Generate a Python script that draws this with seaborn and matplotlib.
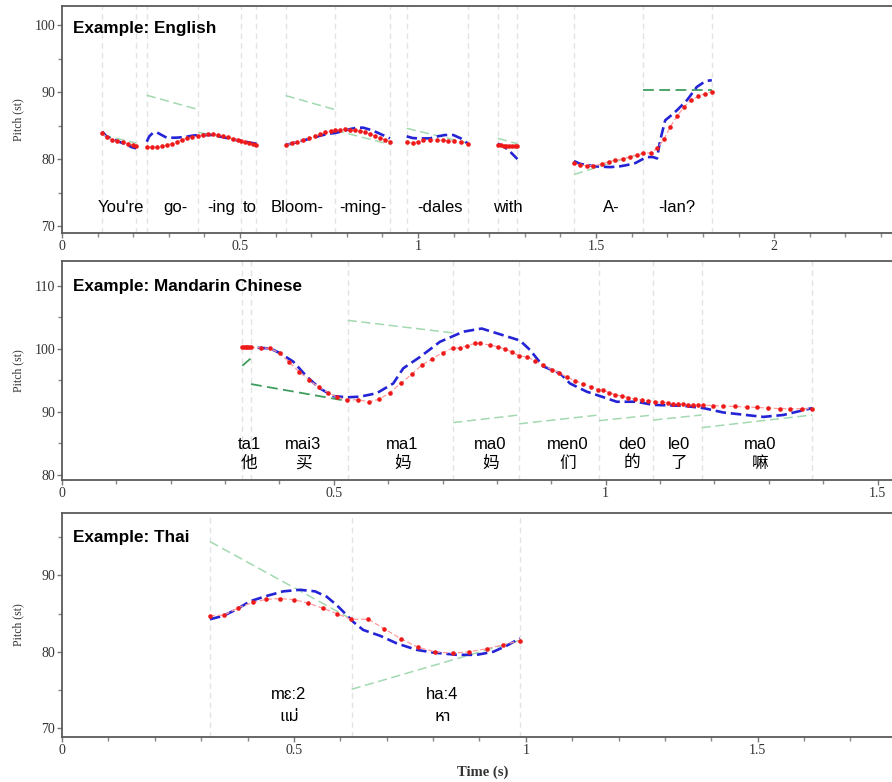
import numpy as np
import pandas as pd
import matplotlib
matplotlib.use("Agg")
import matplotlib.pyplot as plt
import seaborn as sns
from matplotlib import font_manager
from matplotlib.ticker import MultipleLocator
from matplotlib.ft2font import FT2Font

# ======================= DATA =======================
# ---- English ----
en_title = "Example: English"
en_syl_start = [0.113, 0.238, 0.383, 0.504, 0.628, 0.767, 0.968, 1.224, 1.438, 1.631]
en_syl_end = [0.208, 0.383, 0.504, 0.546, 0.767, 0.921, 1.140, 1.279, 1.631, 1.825]
en_tgt_start = [83.6, 89.55, 84.0, 82.7, 89.5, 84.3, 84.6, 83.1, 77.7, 90.4]
en_tgt_end = [82.4, 87.4, 82.8, 82.2, 87.4, 82.2, 82.4, 82.3, 80.9, 90.4]
en_tgt_dark = [0, 0, 0, 0, 0, 0, 0, 0, 0, 1]
en_labels = ["You're", "go-", "-ing", "to", "Bloom-", "-ming-", "-dales", "with", "A-", "-lan?"]
en_label_x = [0.164, 0.319, 0.447, 0.528, 0.661, 0.846, 1.061, 1.253, 1.543, 1.728]

en_red_t = [
    [0.113, 0.125, 0.14, 0.155, 0.17, 0.185, 0.2, 0.208],
    [0.238, 0.252, 0.266, 0.28, 0.294, 0.308, 0.322, 0.336, 0.35, 0.366, 0.383, 0.397,
     0.411, 0.425, 0.439, 0.453, 0.467, 0.481, 0.495, 0.504, 0.515, 0.526, 0.537, 0.546],
    [0.628, 0.645, 0.66, 0.678, 0.695, 0.71, 0.725, 0.74, 0.755, 0.767, 0.782, 0.796,
     0.809, 0.823, 0.837, 0.851, 0.865, 0.879, 0.893, 0.907, 0.921],
    [0.968, 0.985, 1.0, 1.015, 1.034, 1.052, 1.07, 1.085, 1.1, 1.12, 1.14],
    [1.224, 1.232, 1.24, 1.248, 1.256, 1.264, 1.272, 1.279],
    [1.438, 1.455, 1.474, 1.492, 1.516, 1.535, 1.553, 1.575, 1.594, 1.614, 1.633, 1.654,
     1.672, 1.691, 1.708, 1.727, 1.747, 1.766, 1.787, 1.806, 1.825],
]
en_red_p = [
    [83.9, 83.3, 82.9, 82.7, 82.5, 82.3, 82.1, 82.0],
    [81.8, 81.8, 81.85, 81.95, 82.1, 82.3, 82.6, 82.85, 83.1, 83.3, 83.5, 83.6,
     83.7, 83.7, 83.6, 83.5, 83.3, 83.0, 82.8, 82.7, 82.5, 82.35, 82.2, 82.1],
    [82.1, 82.35, 82.6, 82.8, 83.1, 83.4, 83.75, 84.0, 84.2, 84.3, 84.4, 84.45,
     84.4, 84.3, 84.2, 84.0, 83.75, 83.45, 83.15, 82.9, 82.6],
    [82.5, 82.4, 82.55, 82.8, 82.85, 82.85, 82.8, 82.75, 82.7, 82.5, 82.2],
    [82.1, 82.05, 82.0, 82.0, 82.0, 82.0, 82.0, 82.0],
    [79.35, 79.1, 79.0, 79.0, 79.25, 79.6, 79.85, 80.0, 80.35, 80.6, 80.85, 80.95,
     81.6, 83.0, 84.8, 86.4, 87.8, 88.8, 89.4, 89.8, 90.05],
]
en_blue_t = [
    [0.113, 0.125, 0.14, 0.16, 0.18, 0.195, 0.208],
    [0.238, 0.245, 0.255, 0.266, 0.28, 0.294, 0.32, 0.345, 0.365, 0.383, 0.41, 0.425,
     0.45, 0.475, 0.504, 0.525, 0.546],
    [0.628, 0.65, 0.678, 0.70, 0.725, 0.75, 0.767, 0.79, 0.81, 0.828, 0.846, 0.865,
     0.884, 0.905, 0.921],
    [0.968, 0.985, 1.0, 1.034, 1.055, 1.075, 1.099, 1.12, 1.14],
    [1.224, 1.24, 1.255, 1.268, 1.279],
    [1.438, 1.455, 1.474, 1.50, 1.539, 1.565, 1.586, 1.61, 1.631, 1.642, 1.66, 1.671,
     1.680, 1.694, 1.71, 1.727, 1.755, 1.783, 1.80, 1.811, 1.825],
]
en_blue_p = [
    [84.1, 83.4, 83.0, 82.6, 82.2, 81.8, 81.6],
    [82.6, 83.4, 83.9, 84.0, 83.6, 83.2, 83.2, 83.3, 83.5, 83.6, 83.6, 83.6,
     83.3, 83.0, 82.7, 82.5, 82.3],
    [82.1, 82.4, 82.8, 83.1, 83.5, 83.8, 83.9, 84.2, 84.5, 84.7, 84.7, 84.4,
     84.0, 83.5, 83.1],
    [83.4, 83.15, 83.1, 83.1, 83.4, 83.6, 83.6, 83.1, 82.3],
    [82.3, 81.9, 81.3, 80.6, 80.0],
    [79.7, 79.3, 79.1, 78.9, 78.8, 78.9, 79.1, 79.4, 80.0, 80.3, 80.3, 80.1,
     82.8, 85.8, 86.5, 87.3, 88.8, 90.8, 91.4, 91.7, 91.8],
]

# ---- Mandarin Chinese ----
zh_title = "Example: Mandarin Chinese"
zh_syl_start = [0.3316, 0.3476, 0.5255, 0.7197, 0.8405, 0.9876, 1.0875, 1.1765]
zh_syl_end = [0.3476, 0.5255, 0.7197, 0.8405, 0.9876, 1.0875, 1.1765, 1.380]
zh_tgt_start = [97.3, 94.4, 104.5, 88.3, 88.1, 88.6, 88.7, 87.5]
zh_tgt_end = [98.5, 91.7, 102.5, 89.5, 89.5, 89.5, 89.5, 89.5]
zh_tgt_dark = [1, 1, 0, 0, 0, 0, 0, 0]
zh_pinyin = ["ta1", "mai3", "ma1", "ma0", "men0", "de0", "le0", "ma0"]
zh_hanzi = ["他", "买", "妈", "妈", "们", "的", "了", "嘛"]
zh_label_x = [0.344, 0.444, 0.626, 0.788, 0.931, 1.049, 1.135, 1.284]

zh_red_t = [[
    0.3316, 0.3346, 0.3376, 0.3406, 0.3436, 0.3476, 0.3655, 0.3826, 0.4010, 0.4181,
    0.4365, 0.4548, 0.4721, 0.4898, 0.5063, 0.5247, 0.5450, 0.5646, 0.5836, 0.6033,
    0.6230, 0.6432, 0.6616, 0.6811, 0.7002, 0.7186, 0.7320, 0.7455, 0.7596, 0.7688,
    0.7872, 0.8025, 0.8148, 0.8271, 0.8411, 0.8547, 0.8700, 0.8852, 0.9007, 0.9147,
    0.9283, 0.9435, 0.9588, 0.9724, 0.9864, 0.9956, 1.0066, 1.0177, 1.0294, 1.0416,
    1.0539, 1.0662, 1.0784, 1.0907, 1.1030, 1.1151, 1.1243, 1.1335, 1.1427, 1.1519,
    1.1611, 1.1703, 1.1795, 1.1979, 1.2163, 1.2378, 1.2593, 1.2777, 1.2991, 1.3206,
    1.3390, 1.3605, 1.3800]]
zh_red_p = [[
    100.2, 100.2, 100.2, 100.2, 100.2, 100.2, 100.16, 100.05, 99.27, 97.85,
    96.3, 95.05, 93.9, 93.05, 92.3, 91.9, 91.9, 91.6, 92.0, 93.05,
    94.5, 95.95, 97.4, 98.4, 99.4, 100.1, 100.1, 100.5, 100.85, 100.85,
    100.58, 100.3, 99.95, 99.5, 98.85, 98.7, 98.1, 97.4, 96.7, 96.2,
    95.5, 94.95, 94.4, 94.0, 93.5, 93.4, 93.05, 92.7, 92.5, 92.25,
    92.0, 91.85, 91.75, 91.6, 91.5, 91.4, 91.3, 91.25, 91.2, 91.15,
    91.1, 91.05, 91.05, 91.0, 90.9, 90.85, 90.75, 90.7, 90.6, 90.5,
    90.5, 90.5, 90.5]]
zh_blue_t = [[
    0.3316, 0.3476, 0.3826, 0.4010, 0.4254, 0.4501, 0.4745, 0.4990, 0.5236, 0.5481,
    0.5788, 0.6093, 0.6277, 0.6585, 0.6952, 0.7381, 0.7719, 0.8424, 0.8608, 0.8852,
    0.9160, 0.9343, 0.9650, 0.9895, 1.0202, 1.0570, 1.0875, 1.1427, 1.1795, 1.2163,
    1.2899, 1.3266, 1.3800]]
zh_blue_p = [[
    100.2, 100.2, 100.05, 99.3, 97.95, 95.6, 93.7, 92.5, 92.3, 92.4,
    92.95, 94.5, 96.9, 98.7, 101.1, 102.7, 103.2, 101.3, 99.8, 97.2,
    96.1, 94.5, 93.2, 92.5, 91.6, 91.6, 91.1, 90.95, 90.6, 89.9,
    89.2, 89.5, 90.6]]

# ---- Thai ----
th_title = "Example: Thai"
th_syl_start = [0.3191, 0.6246]
th_syl_end = [0.6246, 0.9875]
th_tgt_start = [94.4, 75.1]
th_tgt_end = [84.25, 81.5]
th_tgt_dark = [0, 0]
th_roman = ["mɛ:2", "ha:4"]
th_script = ["แม่", "หา"]
th_label_x = [0.489, 0.820]

th_red_t = [[0.3191, 0.3499, 0.3801, 0.4112, 0.4398, 0.4700, 0.5009, 0.5311, 0.5621,
             0.5923, 0.6231, 0.6604, 0.6949, 0.7309, 0.7669, 0.8042, 0.8424, 0.8782,
             0.9157, 0.9502, 0.9875]]
th_red_p = [[84.7, 84.8, 85.75, 86.45, 86.85, 86.95, 86.8, 86.35, 85.7,
             85.0, 84.25, 84.25, 83.0, 81.7, 80.6, 80.0, 79.8, 80.0,
             80.4, 80.9, 81.45]]
th_blue_t = [[0.3191, 0.3478, 0.3767, 0.4053, 0.4414, 0.4772, 0.5132, 0.5455, 0.5707,
              0.5923, 0.6138, 0.6281, 0.6496, 0.6856, 0.7217, 0.7648, 0.8006, 0.8510,
              0.8941, 0.9299, 0.9588, 0.9875]]
th_blue_p = [[84.25, 84.7, 85.55, 86.6, 87.3, 87.9, 88.1, 87.9, 87.2,
              86.1, 84.8, 83.9, 82.85, 82.1, 81.1, 80.25, 79.9, 79.6,
              79.6, 80.0, 80.8, 81.75]]

# ======================= STYLE =======================
sns.set_theme(style="ticks")
plt.rcParams["font.family"] = ["Liberation Sans", "DejaVu Sans"]

BLUE = "#2424d6"
RED = "#ee1a1a"
PINK = "#ff9c9c"
GREEN_LIGHT = "#a3d9b1"
GREEN_DARK = "#3f9d5e"
VLINE = "#e3e3e3"
SPINE = "#5a5a5a"
TICKC = "#333333"
SERIF = ["Liberation Serif", "DejaVu Serif"]


def has_glyph(path, ch):
    try:
        f = FT2Font(path)
        return f.get_char_index(ord(ch)) != 0
    except Exception:
        return False


def family_for(ch, prefer):
    for name in prefer:
        try:
            p = font_manager.findfont(font_manager.FontProperties(family=name),
                                      fallback_to_default=False)
            if has_glyph(p, ch):
                return name
        except Exception:
            pass
    for fe in font_manager.fontManager.ttflist:
        if has_glyph(fe.fname, ch):
            return fe.name
    return "DejaVu Sans"


THAI_FAM = family_for("แ", ["Noto Sans Thai", "Noto Sans", "DejaVu Sans", "Liberation Sans"])


def to_df(tt, pp):
    rows = []
    for i, (ts, ps) in enumerate(zip(tt, pp)):
        for t, p in zip(ts, ps):
            rows.append((i, t, p))
    return pd.DataFrame(rows, columns=["piece", "t", "p"])


def draw_panel(ax, syl_s, syl_e, tg0, tg1, tgd, red_t, red_p, blue_t, blue_p):
    bounds = sorted(set([round(v, 4) for v in syl_s + syl_e]))
    for b in bounds:
        ax.axvline(b, color=VLINE, lw=1.0, ls=(0, (4, 3)), zorder=1)
    for s, e, a, b, d in zip(syl_s, syl_e, tg0, tg1, tgd):
        ax.plot([s, e], [a, b], color=GREEN_DARK if d else GREEN_LIGHT,
                lw=1.3 if d else 1.1, ls=(0, (6, 3)), zorder=2)
    sns.lineplot(data=to_df(blue_t, blue_p), x="t", y="p", units="piece",
                 estimator=None, ax=ax, color=BLUE, lw=1.9,
                 linestyle=(0, (4, 1.8)), legend=False, zorder=3)
    sns.lineplot(data=to_df(red_t, red_p), x="t", y="p", units="piece",
                 estimator=None, ax=ax, color=PINK, lw=0.9,
                 linestyle=(0, (4, 2)), marker="o", markersize=3.3,
                 markerfacecolor=RED, mec=RED, mew=0, legend=False, zorder=4)


def style_axes(ax, xmax, ylim, ymajor, title, title_off):
    ax.set_xlim(0, xmax)
    ax.set_ylim(*ylim)
    ax.xaxis.set_major_locator(MultipleLocator(0.5))
    ax.xaxis.set_minor_locator(MultipleLocator(0.1))
    ax.yaxis.set_major_locator(MultipleLocator(ymajor))
    ax.yaxis.set_minor_locator(MultipleLocator(5))
    ax.xaxis.set_major_formatter(plt.FuncFormatter(lambda v, _: f"{v:g}"))
    for side in ["left", "bottom", "top"]:
        ax.spines[side].set_color(SPINE)
        ax.spines[side].set_linewidth(1.3)
    ax.spines["right"].set_visible(False)
    ax.tick_params(axis="both", which="major", direction="out", length=3.5,
                   width=1, color="#777777", labelsize=10, labelcolor=TICKC, pad=1.5)
    ax.tick_params(axis="both", which="minor", direction="out", length=3,
                   width=1, color="#888888")
    for lab in ax.get_xticklabels() + ax.get_yticklabels():
        lab.set_family(SERIF)
    ax.set_xlabel("")
    ax.set_ylabel("Pitch (st)", fontsize=8.5, family=SERIF, color=TICKC)
    ax.yaxis.set_label_coords(-0.046, 0.5)
    ax.annotate(title, xy=(0, 1), xycoords="axes fraction", xytext=(11, -title_off),
                textcoords="offset pixels", ha="left", va="baseline",
                fontsize=12.3, fontweight="bold", color="black")
    ax.set_facecolor("white")


fig = plt.figure(figsize=(8.92, 7.82), dpi=100)
W, H = 892.0, 782.0
ax1 = fig.add_axes([62 / W, 1 - 233.3 / H, 830 / W, 227.3 / H])
ax2 = fig.add_axes([62 / W, 1 - 480.0 / H, 830 / W, 219.0 / H])
ax3 = fig.add_axes([62 / W, 1 - 736.7 / H, 830 / W, 223.4 / H])

# English
draw_panel(ax1, en_syl_start, en_syl_end, en_tgt_start, en_tgt_end, en_tgt_dark,
           en_red_t, en_red_p, en_blue_t, en_blue_p)
style_axes(ax1, 2.331, (68.9, 102.9), 10, en_title, 26.7)
for x, lab in zip(en_label_x, en_labels):
    ax1.text(x, 72.1, lab, ha="center", va="baseline", fontsize=12,
             family=["Liberation Sans", "DejaVu Sans"], color="black")

# Mandarin
draw_panel(ax2, zh_syl_start, zh_syl_end, zh_tgt_start, zh_tgt_end, zh_tgt_dark,
           zh_red_t, zh_red_p, zh_blue_t, zh_blue_p)
style_axes(ax2, 1.5266, (79.2, 113.9), 10, zh_title, 30)
for x, py, hz in zip(zh_label_x, zh_pinyin, zh_hanzi):
    ax2.text(x, 84.1, py, ha="center", va="baseline", fontsize=12,
             family=["Liberation Sans", "DejaVu Sans"], color="black")
    ax2.text(x, 81.1, hz, ha="center", va="baseline", fontsize=12,
             family=["Noto Sans CJK SC", "DejaVu Sans"], color="black")

# Thai
draw_panel(ax3, th_syl_start, th_syl_end, th_tgt_start, th_tgt_end, th_tgt_dark,
           th_red_t, th_red_p, th_blue_t, th_blue_p)
style_axes(ax3, 1.7896, (68.9, 98.1), 10, th_title, 28.4)
for x, ro, sc in zip(th_label_x, th_roman, th_script):
    ax3.text(x, 73.8, ro, ha="center", va="baseline", fontsize=12,
             family=["Liberation Sans", "DejaVu Sans"], color="black")
    ax3.text(x, 70.9, sc, ha="center", va="baseline", fontsize=12,
             family=[THAI_FAM, "DejaVu Sans"], color="black")

ax3.set_xlabel("Time (s)", fontsize=10.5, fontweight="bold", family=SERIF, color=TICKC)
ax3.xaxis.set_label_coords(0.507, -0.131)

fig.savefig("out.png", dpi=100, facecolor="white")
